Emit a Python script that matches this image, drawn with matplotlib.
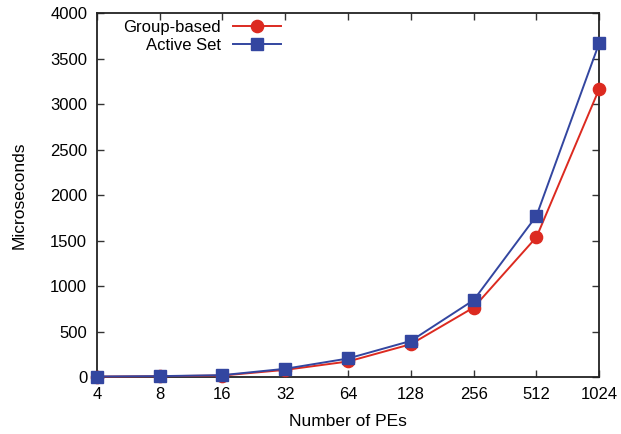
import numpy as np
import matplotlib
matplotlib.use("Agg")
import matplotlib.pyplot as plt

# Collective latency vs. number of processing elements
pes = [4, 8, 16, 32, 64, 128, 256, 512, 1024]
group_based = [6, 10, 18, 80, 172, 362, 765, 1538, 3168]
active_set = [7, 11, 22, 92, 205, 398, 846, 1772, 3672]
yticks = [0, 500, 1000, 1500, 2000, 2500, 3000, 3500, 4000]

plt.rcParams["font.family"] = ["Liberation Sans", "DejaVu Sans"]
plt.rcParams["font.size"] = 12

fig = plt.figure(figsize=(6.21, 4.34), dpi=100)
ax = fig.add_axes([0.156, 0.131, 0.809, 0.839])

ax.plot(pes, group_based, "-o", color="#dc2a20", lw=1.4, ms=8.8,
        label="Group-based", clip_on=False, zorder=3)
ax.plot(pes, active_set, "-s", color="#3346a0", lw=1.4, ms=8.5,
        label="Active Set", clip_on=False, zorder=4)

ax.set_xscale("log", base=2)
ax.set_xlim(4, 1024)
ax.set_xticks(pes)
ax.set_xticklabels([str(p) for p in pes])
ax.minorticks_off()
ax.set_ylim(0, 4000)
ax.set_yticks(yticks)

ax.tick_params(direction="in", length=5, width=1, top=True, right=True,
               pad=7, labelsize=12, color="#333333")
for s in ax.spines.values():
    s.set_linewidth(1.3)
    s.set_color("#222222")

ax.set_xlabel("Number of PEs", labelpad=9, fontsize=12.5)
ax.set_ylabel("Microseconds", labelpad=17, fontsize=12.5)

leg = ax.legend(loc="upper left", frameon=False, markerfirst=False,
                handlelength=2.9, handletextpad=0.7, labelspacing=0.15,
                borderaxespad=0.3, bbox_to_anchor=(0.03, 1.012))

fig.savefig("out.png", dpi=100)
